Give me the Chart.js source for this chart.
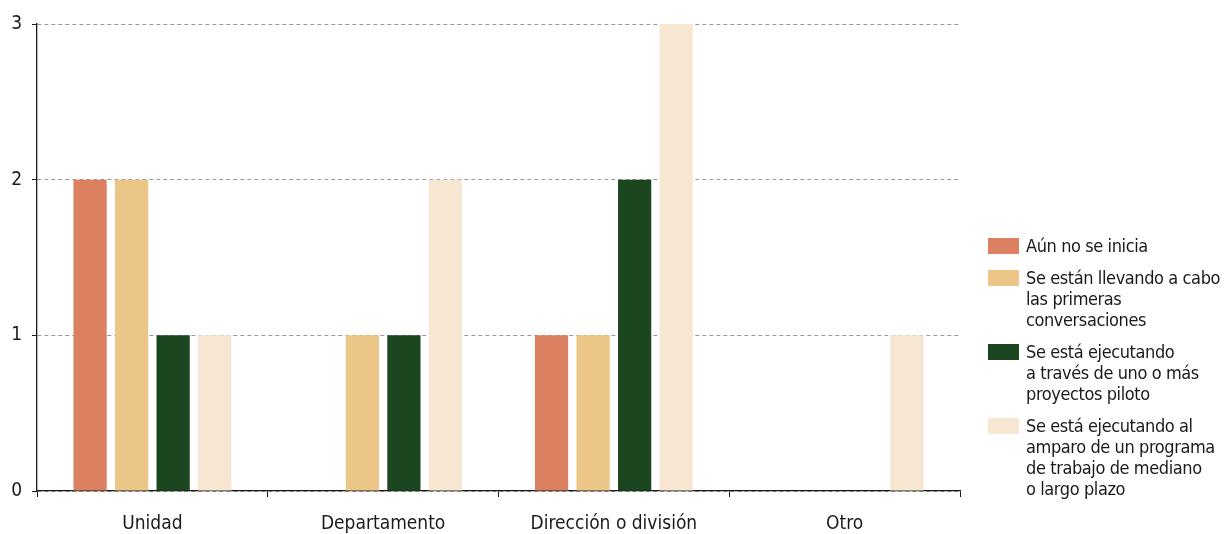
<!DOCTYPE html>
<html lang="es">
<head>
<meta charset="UTF-8">
<title>Chart</title>
<style>
  html, body { margin: 0; padding: 0; background: #fff; }
  #wrap { position: relative; width: 1225px; height: 534px; overflow: hidden; }
  #legend { position: absolute; left: 988px; top: 235px; font-family: "Liberation Sans Narrow", "DejaVu Sans Condensed", sans-serif; font-size: 18px; letter-spacing: -0.4px; line-height: 21px; color: #1a1a1a; white-space: nowrap; }
  .item { display: flex; align-items: flex-start; margin-bottom: 11px; }
  .box { width: 31px; height: 16px; margin-top: 3px; margin-right: 7px; flex: none; }
</style>
</head>
<body>
<div id="wrap">
  <canvas id="myChart" width="1225" height="534"></canvas>
  <div id="legend"></div>
</div>
<script src="https://cdn.jsdelivr.net/npm/chart.js"></script>
<script>
  const categories = ["Unidad", "Departamento", "Dirección o división", "Otro"]
  const seriesNames = [
    ["Aún no se inicia"],
    ["Se están llevando a cabo", "las primeras", "conversaciones"],
    ["Se está ejecutando", "a través de uno o más", "proyectos piloto"],
    ["Se está ejecutando al", "amparo de un programa", "de trabajo de mediano", "o largo plazo"]
  ]
  const noIniciado = [2, 0, 1, 0]
  const conversaciones = [2, 1, 1, 0]
  const piloto = [1, 1, 2, 0]
  const programa = [1, 2, 3, 1]
  const colors = ["#db8060", "#ecc686", "#1c4620", "#f7e7d2"]
  const yTicks = [0, 1, 2, 3]

  const font = { family: '"Liberation Sans Narrow", "DejaVu Sans Condensed", sans-serif', size: 19 }
  const values = [noIniciado, conversaciones, piloto, programa]

  const data = {
    labels: categories,
    datasets: values.map((v, i) => ({
      label: seriesNames[i].join(" "),
      data: v,
      backgroundColor: colors[i],
      categoryPercentage: 0.72,
      barPercentage: 0.8
    }))
  }

  const chart = new Chart(document.getElementById("myChart"), {
    type: "bar",
    data: data,
    options: {
      responsive: false,
      animation: false,
      layout: { padding: { top: 24, right: 265, left: 0, bottom: 0 } },
      plugins: { legend: { display: false }, tooltip: { enabled: false } },
      scales: {
        x: {
          offset: true,
          afterFit: (s) => { s.height = 43 },
          grid: { offset: true, drawOnChartArea: false, tickLength: 6, color: "#1a1a1a", tickColor: "#1a1a1a" },
          border: { color: "#1a1a1a", width: 1.3 },
          ticks: { color: "#1a1a1a", font: font, padding: 16 }
        },
        y: {
          min: 0, max: 3,
          afterFit: (s) => { s.width = 37 },
          afterBuildTicks: (s) => { s.ticks = yTicks.map(v => ({ value: v })) },
          grid: { color: "#999", tickColor: "#1a1a1a", tickLength: 5, lineWidth: 1 },
          border: { color: "#1a1a1a", width: 1.3, dash: [4, 3] },
          ticks: { color: "#1a1a1a", font: font, padding: 10 }
        }
      }
    }
  })

  const legend = document.getElementById("legend")
  seriesNames.forEach((lines, i) => {
    const item = document.createElement("div")
    item.className = "item"
    const box = document.createElement("div")
    box.className = "box"
    box.style.background = colors[i]
    const txt = document.createElement("div")
    txt.innerHTML = lines.join("<br>")
    item.appendChild(box)
    item.appendChild(txt)
    legend.appendChild(item)
  })
</script>
</body>
</html>
